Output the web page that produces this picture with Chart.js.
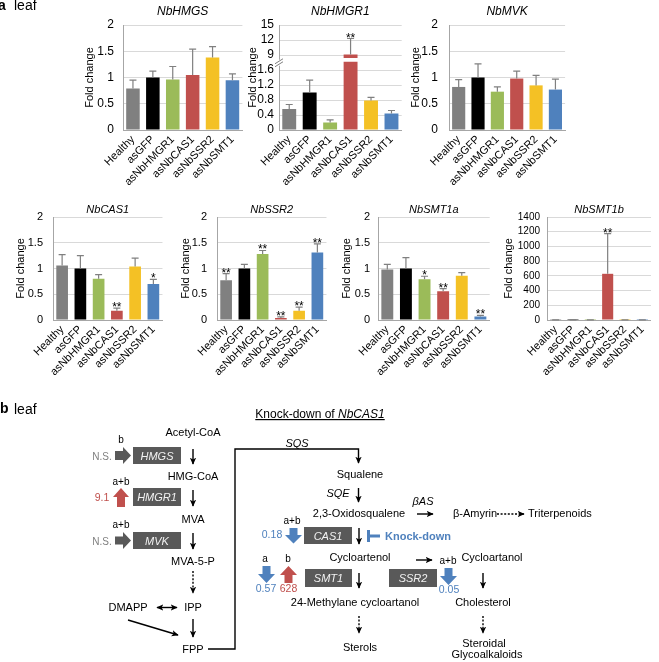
<!DOCTYPE html>
<html>
<head>
<meta charset="utf-8">
<script src="https://cdn.jsdelivr.net/npm/chart.js@4.4.0/dist/chart.umd.min.js"></script>
<style>
  html, body { margin: 0; padding: 0; background: #fff; }
  #page { position: relative; width: 659px; height: 662px; overflow: hidden; }
  #page canvas { position: absolute; }
  #diagram { position: absolute; left: 0; top: 0; }
</style>
</head>
<body>
<div id="page">
  <canvas id="cHMGS"></canvas>
  <canvas id="cHMGR1"></canvas>
  <canvas id="cMVK"></canvas>
  <canvas id="cCAS1"></canvas>
  <canvas id="cSSR2"></canvas>
  <canvas id="cSMT1a"></canvas>
  <canvas id="cSMT1b"></canvas>

  <svg id="diagram" width="659" height="662" viewBox="0 0 659 662"
       font-family="'Liberation Sans', Arial, sans-serif" font-size="11">
    <defs>
      <marker id="head" viewBox="0 0 10 10" refX="9" refY="5" markerUnits="userSpaceOnUse"
              markerWidth="7" markerHeight="7" orient="auto-start-reverse">
        <path d="M0,0.5 L10,5 L0,9.5 L2.5,5 Z" fill="#000"/>
      </marker>
    </defs>

    <!-- panel letters -->
    <text x="-2" y="10" font-size="14" font-weight="bold">a</text>
    <text x="14" y="10" font-size="14">leaf</text>
    <text x="0" y="413" font-size="14" font-weight="bold">b</text>
    <text x="14" y="414" font-size="14">leaf</text>

    <text x="320" y="418" font-size="12" text-anchor="middle" text-decoration="underline">Knock-down of <tspan font-style="italic">NbCAS1</tspan></text>

    <!-- mevalonate side -->
    <g text-anchor="middle">
      <text x="193" y="436">Acetyl-CoA</text>
      <text x="193" y="480">HMG-CoA</text>
      <text x="193" y="523">MVA</text>
      <text x="193" y="565">MVA-5-P</text>
      <text x="128" y="611">DMAPP</text>
      <text x="193" y="611">IPP</text>
      <text x="193" y="653">FPP</text>
      <text x="297" y="447" font-style="italic">SQS</text>

      <text x="121" y="443" font-size="10">b</text>
      <text x="121" y="485" font-size="10">a+b</text>
      <text x="121" y="528" font-size="10">a+b</text>
      <text x="102" y="459.5" font-size="10" fill="#808080">N.S.</text>
      <text x="102" y="544.5" font-size="10" fill="#808080">N.S.</text>
      <text x="102" y="501" font-size="10.5" fill="#c0504d">9.1</text>
    </g>

    <g fill="#595959">
      <rect x="133" y="447" width="48" height="17"/>
      <rect x="133" y="488" width="48" height="18"/>
      <rect x="133" y="532" width="48" height="17"/>
      <rect x="304" y="527" width="48" height="17"/>
      <rect x="305" y="569" width="47" height="18"/>
      <rect x="389" y="569" width="48" height="18"/>
      <polygon points="115,451 123,451 123,447 131,455.5 123,464 123,460 115,460"/>
      <polygon points="115,536.5 123,536.5 123,532 131,540.5 123,549 123,544.5 115,544.5"/>
    </g>
    <g fill="#f2f2f2" font-style="italic" text-anchor="middle">
      <text x="157" y="460">HMGS</text>
      <text x="157" y="501">HMGR1</text>
      <text x="157" y="545">MVK</text>
      <text x="328" y="540">CAS1</text>
      <text x="328.5" y="582">SMT1</text>
      <text x="413" y="582">SSR2</text>
    </g>

    <g fill="#c0504d">
      <polygon points="117,507 117,497 113,497 121,488 129,497 125,497 125,507"/>
      <polygon points="284.5,583 284.5,575 280,575 288.5,566 297,575 292.5,575 292.5,583"/>
    </g>
    <g fill="#4f81bd">
      <polygon points="289.5,528 297.5,528 297.5,535 302,535 293.5,543.5 285,535 289.5,535"/>
      <polygon points="262.5,566 270.5,566 270.5,574 275,574 266.5,583 258,574 262.5,574"/>
      <polygon points="444.5,568 452.5,568 452.5,576 457,576 448.5,585 440,576 444.5,576"/>
      <rect x="367" y="530" width="3" height="12"/>
      <rect x="369" y="534.5" width="11" height="3"/>
    </g>

    <!-- thin arrows -->
    <g stroke="#000" stroke-width="1.4" fill="none">
      <line x1="193" y1="449" x2="193" y2="464" marker-end="url(#head)"/>
      <line x1="193" y1="490" x2="193" y2="506" marker-end="url(#head)"/>
      <line x1="193" y1="533" x2="193" y2="549" marker-end="url(#head)"/>
      <line x1="193" y1="571" x2="193" y2="593" stroke-dasharray="2,1.6" marker-end="url(#head)"/>
      <line x1="157" y1="607.5" x2="177" y2="607.5" marker-start="url(#head)" marker-end="url(#head)"/>
      <line x1="193" y1="619" x2="193" y2="637" marker-end="url(#head)"/>
      <line x1="128" y1="620" x2="178" y2="635" marker-end="url(#head)"/>
      <polyline points="208,649 235,649 235,449 358.5,449 358.5,463" marker-end="url(#head)"/>
      <line x1="358.5" y1="488" x2="358.5" y2="502" marker-end="url(#head)"/>
      <line x1="417" y1="514" x2="433" y2="514" marker-end="url(#head)"/>
      <line x1="497" y1="514" x2="524" y2="514" stroke-dasharray="2,1.6" marker-end="url(#head)"/>
      <line x1="359" y1="528" x2="359" y2="544" marker-end="url(#head)"/>
      <line x1="416" y1="560" x2="432" y2="560" marker-end="url(#head)"/>
      <line x1="359" y1="573" x2="359" y2="588" marker-end="url(#head)"/>
      <line x1="483" y1="573" x2="483" y2="588" marker-end="url(#head)"/>
      <line x1="359" y1="616" x2="359" y2="633" stroke-dasharray="2,1.6" marker-end="url(#head)"/>
      <line x1="483" y1="616" x2="483" y2="633" stroke-dasharray="2,1.6" marker-end="url(#head)"/>
    </g>

    <!-- sterol side -->
    <g text-anchor="middle">
      <text x="360" y="478">Squalene</text>
      <text x="338" y="497" font-style="italic">SQE</text>
      <text x="423" y="505" font-style="italic">βAS</text>
      <text x="359" y="517">2,3-Oxidosqualene</text>
      <text x="475" y="517">β-Amyrin</text>
      <text x="528" y="517" text-anchor="start">Triterpenoids</text>
      <text x="292" y="524" font-size="10">a+b</text>
      <text x="272" y="538" font-size="10.5" fill="#4f81bd">0.18</text>
      <text x="385" y="539.5" text-anchor="start" font-weight="bold" fill="#4f81bd">Knock-down</text>
      <text x="360" y="561">Cycloartenol</text>
      <text x="448" y="564" font-size="10">a+b</text>
      <text x="492" y="561">Cycloartanol</text>
      <text x="265" y="562" font-size="10">a</text>
      <text x="288" y="562" font-size="10">b</text>
      <text x="266" y="592" font-size="10.5" fill="#4f81bd">0.57</text>
      <text x="288.5" y="592" font-size="10.5" fill="#c0504d">628</text>
      <text x="449" y="593" font-size="10.5" fill="#4f81bd">0.05</text>
      <text x="355" y="606">24-Methylane cycloartanol</text>
      <text x="483" y="606">Cholesterol</text>
      <text x="360" y="651">Sterols</text>
      <text x="484" y="646.5">Steroidal</text>
      <text x="487" y="658">Glycoalkaloids</text>
    </g>
  </svg>
</div>

<script>
const groups = ['Healthy', 'asGFP', 'asNbHMGR1', 'asNbCAS1', 'asNbSSR2', 'asNbSMT1'];
const barColors = ['#808080', '#000000', '#9bbb59', '#c0504d', '#f4c125', '#4f81bd'];

const hmgsMean = [0.79, 1.0, 0.96, 1.05, 1.38, 0.95];
const hmgsSd = [0.16, 0.12, 0.25, 0.49, 0.21, 0.12];
const hmgsStars = ['', '', '', '', '', ''];

const hmgr1Mean = [0.56, 1.0, 0.2, 9.1, 0.79, 0.44];
const hmgr1Sd = [0.12, 0.33, 0.07, 3.2, 0.08, 0.08];
const hmgr1Stars = ['', '', '', '**', '', ''];
const hmgr1Ticks = ['0', '0.4', '0.8', '1.2', '1.6', '9', '12', '15'];

const mvkMean = [0.82, 1.0, 0.73, 0.98, 0.85, 0.77];
const mvkSd = [0.14, 0.26, 0.09, 0.14, 0.19, 0.2];
const mvkStars = ['', '', '', '', '', ''];

const cas1Mean = [1.06, 1.0, 0.8, 0.18, 1.04, 0.7];
const cas1Sd = [0.21, 0.25, 0.08, 0.05, 0.16, 0.09];
const cas1Stars = ['', '', '', '**', '', '*'];

const ssr2Mean = [0.77, 1.0, 1.28, 0.04, 0.18, 1.31];
const ssr2Sd = [0.13, 0.08, 0.07, 0.02, 0.07, 0.17];
const ssr2Stars = ['**', '', '**', '**', '**', '**'];

const smt1aMean = [0.98, 1.0, 0.79, 0.56, 0.86, 0.07];
const smt1aSd = [0.1, 0.21, 0.06, 0.05, 0.06, 0.02];
const smt1aStars = ['', '', '*', '**', '', '**'];

const smt1bMean = [1, 1, 1, 628, 1, 1];
const smt1bSd = [0.3, 0.5, 0.3, 545, 0.3, 0.3];
const smt1bStars = ['', '', '', '**', '', ''];

const FONT = "'Liberation Sans', Arial, sans-serif";

// broken axis for NbHMGR1: 0-1.6 in 0.4 steps, then 9-15 in steps of 3
function hmgr1Scale(v) {
  if (v <= 1.6) return v / 0.4;
  if (v < 9) return 4 + (v - 1.6) / 7.4;
  return 5 + (v - 9) / 3;
}

function errorBars(mean, sd, stars, toScale) {
  return {
    id: 'errorBars',
    afterDatasetsDraw(chart) {
      const ctx = chart.ctx;
      const y = chart.scales.y;
      ctx.save();
      ctx.strokeStyle = '#808080';
      ctx.lineWidth = 1.2;
      ctx.fillStyle = '#000';
      ctx.font = '12px ' + FONT;
      ctx.textAlign = 'center';
      chart.getDatasetMeta(0).data.forEach((bar, i) => {
        const top = y.getPixelForValue(toScale(mean[i] + sd[i]));
        ctx.beginPath();
        ctx.moveTo(bar.x, bar.y);
        ctx.lineTo(bar.x, top);
        ctx.moveTo(bar.x - 3.5, top);
        ctx.lineTo(bar.x + 3.5, top);
        ctx.stroke();
        if (stars[i]) ctx.fillText(stars[i], bar.x, top + 3);
      });
      ctx.restore();
    }
  };
}

const axisBreak = {
  id: 'axisBreak',
  afterDraw(chart) {
    const {ctx, chartArea} = chart;
    const y = chart.scales.y;
    const bar = chart.getDatasetMeta(0).data[3];
    ctx.save();
    ctx.fillStyle = '#fff';
    const yA = y.getPixelForValue(4.55), yB = y.getPixelForValue(4.8);
    ctx.fillRect(bar.x - bar.width / 2 - 1, yB, bar.width + 2, yA - yB);
    const x0 = chartArea.left;
    const yb = y.getPixelForValue(4.35);
    ctx.fillRect(x0 - 4, yb - 5, 8, 6);
    ctx.strokeStyle = '#808080';
    ctx.lineWidth = 1;
    ctx.beginPath();
    ctx.moveTo(x0 - 4, yb + 2); ctx.lineTo(x0 + 4, yb - 3);
    ctx.moveTo(x0 - 4, yb - 1); ctx.lineTo(x0 + 4, yb - 6);
    ctx.stroke();
    ctx.restore();
  }
};

function foldChart(id, s) {
  const canvas = document.getElementById(id);
  canvas.width = s.w;
  canvas.height = s.h;
  canvas.style.left = s.left + 'px';
  canvas.style.top = s.top + 'px';
  const toScale = s.toScale || (v => v);
  const plugins = [errorBars(s.mean, s.sd, s.stars, toScale)];
  if (s.extra) plugins.push(s.extra);

  return new Chart(canvas, {
    type: 'bar',
    data: {
      labels: groups,
      datasets: [{
        data: s.mean.map(toScale),
        backgroundColor: barColors,
        barPercentage: s.barPct,
        categoryPercentage: 1,
      }],
    },
    options: {
      responsive: false,
      animation: false,
      devicePixelRatio: 1,
      layout: { padding: 0 },
      plugins: {
        legend: { display: false },
        tooltip: { enabled: false },
        title: {
          display: true,
          text: s.title,
          fullSize: false,
          color: '#000',
          font: { family: FONT, size: s.titleSize, style: 'italic', weight: 'normal' },
          padding: { top: s.titlePad[0], bottom: s.titlePad[1] },
        },
      },
      scales: {
        x: {
          grid: { display: false, drawTicks: false },
          border: { color: '#a6a6a6' },
          ticks: {
            autoSkip: false, minRotation: 45, maxRotation: 45, padding: 3,
            color: '#000', font: { family: FONT, size: 11 },
          },
          afterFit: sc => { sc.height = 55; },
        },
        y: {
          min: s.min, max: s.max,
          grid: { color: '#d9d9d9', drawTicks: false },
          border: { color: '#a6a6a6' },
          ticks: {
            autoSkip: false,
            stepSize: s.step, padding: s.tickPad, color: '#000',
            font: { family: FONT, size: s.tickSize },
            callback: s.tickLabel || (v => String(+v.toFixed(2))),
          },
          title: {
            display: true, text: 'Fold change', color: '#000',
            font: { family: FONT, size: 11 }, padding: { top: 0, bottom: 0 },
          },
          afterFit: sc => { sc.width = s.yW; },
        },
      },
    },
    plugins: plugins,
  });
}

const topRow = { top: 0, h: 185, titleSize: 12, titlePad: [4, 6.6], tickSize: 12, barPct: 0.68, min: 0, max: 2, step: 0.5 };
const botRow = { top: 195, h: 180, titleSize: 11, titlePad: [8.8, 0], tickSize: 11, barPct: 0.64, min: 0, max: 2, step: 0.5 };

foldChart('cHMGS', Object.assign({}, topRow, {
  left: 83, w: 162, yW: 40, tickPad: 9, title: 'NbHMGS',
  mean: hmgsMean, sd: hmgsSd, stars: hmgsStars,
}));
foldChart('cHMGR1', Object.assign({}, topRow, {
  left: 246, w: 158, yW: 33, tickPad: 5, title: 'NbHMGR1',
  mean: hmgr1Mean, sd: hmgr1Sd, stars: hmgr1Stars,
  min: 0, max: 7, step: 1, toScale: hmgr1Scale,
  tickLabel: v => hmgr1Ticks[Math.round(v)] || '',
  extra: axisBreak,
}));
foldChart('cMVK', Object.assign({}, topRow, {
  left: 409, w: 159, yW: 40, tickPad: 11, title: 'NbMVK',
  mean: mvkMean, sd: mvkSd, stars: mvkStars,
}));

foldChart('cCAS1', Object.assign({}, botRow, {
  left: 14, w: 152, yW: 39, tickPad: 10, title: 'NbCAS1',
  mean: cas1Mean, sd: cas1Sd, stars: cas1Stars,
}));
foldChart('cSSR2', Object.assign({}, botRow, {
  left: 179, w: 151, yW: 38, tickPad: 10, title: 'NbSSR2',
  mean: ssr2Mean, sd: ssr2Sd, stars: ssr2Stars,
}));
foldChart('cSMT1a', Object.assign({}, botRow, {
  left: 340, w: 153, yW: 38, tickPad: 8, title: 'NbSMT1a',
  mean: smt1aMean, sd: smt1aSd, stars: smt1aStars,
}));
foldChart('cSMT1b', Object.assign({}, botRow, {
  left: 502, w: 153, yW: 45, tickPad: 7, title: 'NbSMT1b', tickSize: 10,
  mean: smt1bMean, sd: smt1bSd, stars: smt1bStars,
  min: 0, max: 1400, step: 200, tickLabel: v => String(v),
}));
</script>
</body>
</html>
